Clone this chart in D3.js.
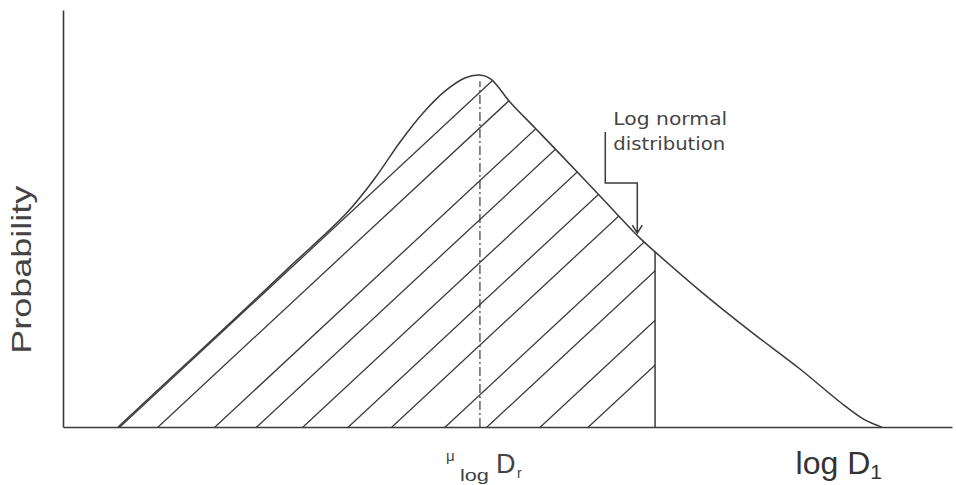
<!DOCTYPE html>
<html>
<head>
<meta charset="utf-8">
<script src="https://cdn.jsdelivr.net/npm/d3@7"></script>
<style>
  body { margin: 0; background: white; }
  svg { display: block; }
</style>
</head>
<body>
<svg id="chart"></svg>
<script>
// curve (x = log D, y = probability)
var curveX = [0.62, 1.26, 1.88, 2.55, 3.19, 3.51, 3.79, 4.05, 4.30, 4.52, 4.69, 4.81, 5.03, 5.31, 5.59, 6.04, 6.49, 6.66, 7.17, 7.73, 8.29, 8.74, 9.02, 9.21];
var curveY = [0, 0.127, 0.249, 0.384, 0.513, 0.597, 0.683, 0.753, 0.806, 0.837, 0.844, 0.835, 0.779, 0.717, 0.655, 0.554, 0.453, 0.420, 0.326, 0.230, 0.139, 0.060, 0.017, 0];

// mean and cut-off
var meanX = 4.69, meanY = 0.844;
var cutX = 6.66, cutY = 0.420;

// hatch lines: where they meet the baseline
var hatchStarts = [0.64, 1.07, 1.71, 2.18, 2.70, 3.21, 3.70, 4.30, 4.77, 5.37, 5.91];

var dimensions = {
    width: 956,
    height: 485,
    margin: { top: 10, bottom: 58, left: 63, right: 4 }
};

var ink = "#3a3a3a";

var svg = d3.select("#chart")
    .attr("width", dimensions.width)
    .attr("height", dimensions.height)
    .style("background-color", "white");

var xScale = d3.scaleLinear()
    .domain([0, 10])
    .range([dimensions.margin.left, dimensions.width - dimensions.margin.right]);

var yScale = d3.scaleLinear()
    .domain([0, 1])
    .range([dimensions.height - dimensions.margin.bottom, dimensions.margin.top]);

var points = curveX.map((x, i) => ({ x: x, y: curveY[i] }));

var line = d3.line()
    .x(d => xScale(d.x))
    .y(d => yScale(d.y))
    .curve(d3.curveCatmullRom.alpha(0.5));

var area = d3.area()
    .x(d => xScale(d.x))
    .y0(yScale(0))
    .y1(d => yScale(d.y))
    .curve(d3.curveCatmullRom.alpha(0.5));

// clip paths for the hatched region
var defs = svg.append("defs");
defs.append("clipPath").attr("id", "underCurve")
    .append("path").attr("d", area(points));
defs.append("clipPath").attr("id", "leftOfCut")
    .append("rect")
    .attr("x", xScale(0))
    .attr("y", yScale(1))
    .attr("width", xScale(cutX) - xScale(0))
    .attr("height", yScale(0) - yScale(1));

// slope of the hatching in pixels (dy/dx)
var hatchSlope = 0.93;
var pxPerX = xScale(1) - xScale(0);
var pxPerY = yScale(0) - yScale(1);
var rise = t => t * pxPerX * hatchSlope / pxPerY;

svg.append("g").attr("clip-path", "url(#leftOfCut)")
    .append("g").attr("clip-path", "url(#underCurve)")
    .selectAll(".hatch")
    .data(hatchStarts)
    .enter()
    .append("line")
    .attr("class", "hatch")
    .attr("x1", d => xScale(d - 0.3))
    .attr("y1", yScale(rise(-0.3)))
    .attr("x2", d => xScale(d + 6))
    .attr("y2", yScale(rise(6)))
    .style("stroke", ink)
    .style("stroke-width", 1.3);

// the distribution curve
svg.append("path")
    .attr("d", line(points))
    .style("fill", "none")
    .style("stroke", ink)
    .style("stroke-width", 1.5);

// mean line (dash-dot)
svg.append("line")
    .attr("x1", xScale(meanX))
    .attr("x2", xScale(meanX))
    .attr("y1", yScale(0))
    .attr("y2", yScale(meanY - 0.015))
    .style("stroke", ink)
    .style("stroke-width", 1.2)
    .style("stroke-dasharray", "9,3,2,3");

// cut-off line
svg.append("line")
    .attr("x1", xScale(cutX))
    .attr("x2", xScale(cutX))
    .attr("y1", yScale(0))
    .attr("y2", yScale(cutY))
    .style("stroke", ink)
    .style("stroke-width", 1.5);

// axes, no ticks
svg.append("g")
    .attr("transform", `translate(0,${yScale(0)})`)
    .call(d3.axisBottom(xScale).tickValues([]).tickSizeOuter(0));
svg.append("g")
    .attr("transform", `translate(${xScale(0)},0)`)
    .call(d3.axisLeft(yScale).tickValues([]).tickSizeOuter(0));
svg.selectAll(".domain")
    .style("stroke", ink)
    .style("stroke-width", 1.6);

// axis labels
svg.append("text")
    .attr("transform", `translate(31,${yScale(0.377)}) rotate(-90)`)
    .attr("text-anchor", "middle")
    .attr("textLength", 168)
    .attr("lengthAdjust", "spacingAndGlyphs")
    .style("font-family", "Liberation Sans, Arial, sans-serif")
    .style("font-size", "28px")
    .style("fill", "#444")
    .text("Probability");

var xLabel = svg.append("text")
    .attr("x", xScale(8.24))
    .attr("y", 474)
    .style("font-family", "Liberation Sans, Arial, sans-serif")
    .style("font-size", "32px")
    .style("fill", "#333");
xLabel.append("tspan").text("log D");
xLabel.append("tspan")
    .attr("dy", 5)
    .style("font-size", "21px")
    .text("1");

// mean label
var muLabel = svg.append("g")
    .style("font-family", "Liberation Sans, Arial, sans-serif")
    .style("fill", "#444");
muLabel.append("text")
    .attr("x", xScale(meanX) - 34)
    .attr("y", 461)
    .style("font-size", "15px")
    .text("\u03bc");
muLabel.append("text")
    .attr("x", xScale(meanX) - 20)
    .attr("y", 481)
    .attr("textLength", 29)
    .attr("lengthAdjust", "spacingAndGlyphs")
    .style("font-size", "17px")
    .text("log");
muLabel.append("text")
    .attr("x", xScale(meanX) + 16)
    .attr("y", 473)
    .style("font-size", "27px")
    .text("D");
muLabel.append("text")
    .attr("x", xScale(meanX) + 37)
    .attr("y", 478)
    .style("font-size", "14px")
    .text("r");

// annotation
var note = svg.append("g")
    .style("font-family", "DejaVu Sans, sans-serif")
    .style("font-size", "17px")
    .style("fill", "#444");
note.append("text")
    .attr("x", xScale(6.19))
    .attr("y", 125)
    .attr("textLength", 114)
    .attr("lengthAdjust", "spacingAndGlyphs")
    .text("Log normal");
note.append("text")
    .attr("x", xScale(6.19))
    .attr("y", 150)
    .attr("textLength", 112)
    .attr("lengthAdjust", "spacingAndGlyphs")
    .text("distribution");

var tipX = 6.46, tipY = 0.465;
var elbowX = 6.10;
var arrow = d3.path();
arrow.moveTo(xScale(elbowX), 132);
arrow.lineTo(xScale(elbowX), 183);
arrow.lineTo(xScale(tipX), 183);
arrow.lineTo(xScale(tipX), yScale(tipY));
arrow.moveTo(xScale(tipX) - 5, yScale(tipY) - 8);
arrow.lineTo(xScale(tipX), yScale(tipY));
arrow.lineTo(xScale(tipX) + 5, yScale(tipY) - 8);
svg.append("path")
    .attr("d", arrow.toString())
    .style("fill", "none")
    .style("stroke", ink)
    .style("stroke-width", 1.5);
</script>
</body>
</html>
